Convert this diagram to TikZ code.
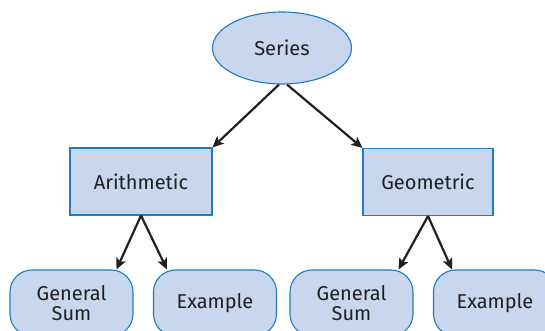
\documentclass[tikz,border=0pt]{standalone}
\usepackage{fontspec}
\setmainfont{Fira Sans}
\usetikzlibrary{shapes.geometric,arrows.meta}
\definecolor{boxfill}{HTML}{C8D6EE}
\definecolor{boxline}{HTML}{1F7CC1}
\definecolor{arr}{HTML}{231F20}
\begin{document}
\begin{tikzpicture}[x=1pt,y=1pt,
  base/.style={draw=boxline,fill=boxfill,line width=1.1pt,text=arr,font=\fontsize{20}{20}\selectfont,inner sep=0pt,align=center},
  ell/.style={base,ellipse,minimum width=139pt,minimum height=72pt},
  rbox/.style={base,rectangle,minimum height=67pt},
  pill/.style={base,rectangle,rounded corners=22pt,minimum height=66pt,minimum width=123pt},
  conn/.style={draw=arr,line width=2.2pt,-{Stealth[length=11pt,width=10pt,inset=2.5pt]}}]
\useasboundingbox (0,0) rectangle (545,331);
\node[ell] (s) at (282,283) {Series};
\node[rbox,minimum width=142pt] (a) at (141,149.5) {Arithmetic};
\node[rbox,minimum width=130pt] (g) at (428,149) {Geometric};
\node[pill] (gs1) at (71.5,28) {General\\Sum};
\node[pill] (ex1) at (215,28) {Example};
\node[pill] (gs2) at (351.5,28) {General\\Sum};
\node[pill] (ex2) at (495,28) {Example};
\draw[conn] ([xshift=-3pt]s.south) -- (a.north east);
\draw[conn] ([xshift=5pt]s.south) -- (g.north west);
\draw[conn] (a.south) -- ([xshift=45pt]gs1.north);
\draw[conn] (a.south) -- ([xshift=-48pt]ex1.north);
\draw[conn] (g.south) -- ([xshift=47pt]gs2.north);
\draw[conn] (g.south) -- ([xshift=-43pt]ex2.north);
\end{tikzpicture}
\end{document}
